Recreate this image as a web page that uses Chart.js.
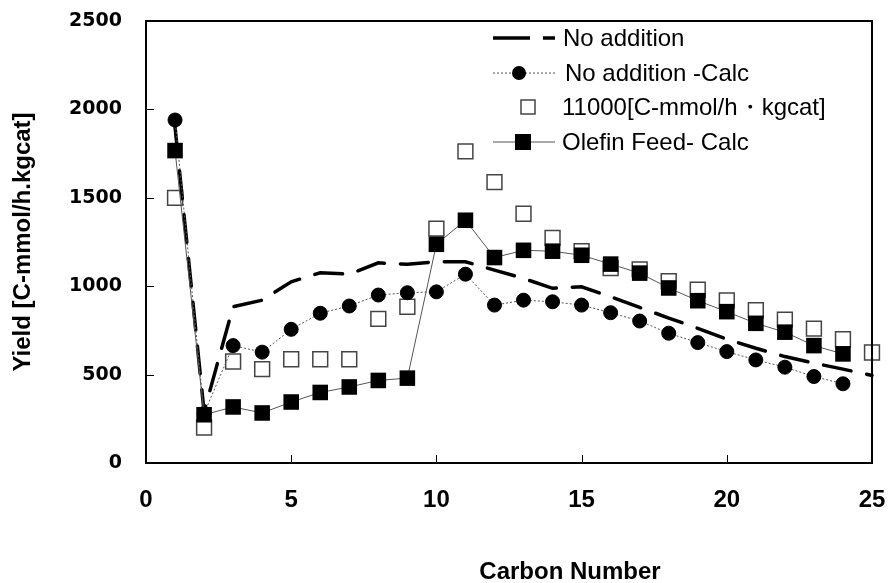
<!DOCTYPE html>
<html>
<head>
<meta charset="utf-8">
<script src="https://cdn.jsdelivr.net/npm/chart.js@4.4.1/dist/chart.umd.min.js"></script>
<style>
html, body { margin: 0; padding: 0; background: #fff; }
#wrap { width: 891px; height: 583px; }
</style>
</head>
<body>
<div id="wrap"><canvas id="myChart" width="891" height="583"></canvas></div>
<script>
var carbonNumber = [1, 2, 3, 4, 5, 6, 7, 8, 9, 10, 11, 12, 13, 14, 15, 16, 17, 18, 19, 20, 21, 22, 23, 24, 25];
var noAddition = [1900, 290, 884, 921, 1025, 1076, 1068, 1132, 1124, 1138, 1138, 1091, 1044, 988, 997, 940, 880, 820, 762, 700, 649, 602, 565, 531, 495];
var noAdditionCalc = [1940, 280, 664, 627, 756, 847, 888, 950, 963, 968, 1068, 893, 921, 912, 893, 850, 803, 734, 681, 630, 583, 542, 489, 448];
var exp11000 = [1500, 200, 574, 531, 587, 587, 587, 815, 884, 1326, 1763, 1589, 1410, 1273, 1198, 1102, 1095, 1029, 980, 920, 864, 811, 760, 700, 625];
var olefinFeedCalc = [1767, 273, 317, 283, 345, 399, 430, 467, 480, 1237, 1373, 1162, 1203, 1198, 1175, 1125, 1074, 990, 918, 856, 790, 740, 664, 617];
var xTicks = [0, 5, 10, 15, 20, 25];
var yTicks = [0, 500, 1000, 1500, 2000, 2500];
var legendLabels = ['No addition', 'No addition -Calc', '11000[C-mmol/h\u30FBkgcat]', 'Olefin Feed- Calc'];

scriptMain = {
    init: function () {
        scriptMain.generateGrafica();
    },

    toPoints: function (values) {
        return values.map(function (v, i) {
            return {x: carbonNumber[i], y: v};
        });
    },

    // frame, inward ticks, legend and the x title
    extras: {
        id: 'extras',
        afterDraw: function (chart) {
            var ctx = chart.ctx;
            var a = chart.chartArea;
            var xs = chart.scales.x;
            var ys = chart.scales.y;
            ctx.save();
            ctx.strokeStyle = '#000';
            ctx.lineWidth = 2;
            ctx.strokeRect(a.left, a.top, a.right - a.left, a.bottom - a.top);

            ctx.lineWidth = 1;
            ctx.beginPath();
            xTicks.slice(1, -1).forEach(function (v) {
                var px = Math.round(xs.getPixelForValue(v)) + 0.5;
                ctx.moveTo(px, a.bottom);
                ctx.lineTo(px, a.bottom - 8);
            });
            yTicks.slice(1, -1).forEach(function (v) {
                var py = Math.round(ys.getPixelForValue(v)) + 0.5;
                ctx.moveTo(a.left, py);
                ctx.lineTo(a.left + 8, py);
            });
            ctx.stroke();

            // legend
            var rows = [38, 73, 107, 142];
            ctx.font = '24px "Liberation Sans", Arial, sans-serif';
            ctx.fillStyle = '#000';
            ctx.textBaseline = 'middle';
            ctx.textAlign = 'left';

            ctx.beginPath();
            ctx.lineWidth = 3.5;
            ctx.setLineDash([37, 13]);
            ctx.moveTo(493, rows[0]);
            ctx.lineTo(555, rows[0]);
            ctx.stroke();

            ctx.beginPath();
            ctx.lineWidth = 1;
            ctx.strokeStyle = '#555';
            ctx.setLineDash([2, 2]);
            ctx.moveTo(493, rows[1]);
            ctx.lineTo(555, rows[1]);
            ctx.stroke();
            ctx.setLineDash([]);
            ctx.beginPath();
            ctx.arc(519, rows[1], 7, 0, Math.PI * 2);
            ctx.fill();

            ctx.fillStyle = '#fff';
            ctx.strokeStyle = '#444';
            ctx.lineWidth = 1.5;
            ctx.fillRect(521, rows[2] - 7, 14, 14);
            ctx.strokeRect(521, rows[2] - 7, 14, 14);

            ctx.fillStyle = '#000';
            ctx.strokeStyle = '#555';
            ctx.lineWidth = 1;
            ctx.beginPath();
            ctx.moveTo(493, rows[3]);
            ctx.lineTo(555, rows[3]);
            ctx.stroke();
            ctx.fillRect(515, rows[3] - 8, 16, 16);

            var textX = [563, 565, 562, 562];
            legendLabels.forEach(function (t, i) {
                ctx.fillText(t, textX[i], rows[i] + 1);
            });

            ctx.font = 'bold 24px "Liberation Sans", Arial, sans-serif';
            ctx.textAlign = 'center';
            ctx.fillText('Carbon Number', 570, 572);
            ctx.restore();
        }
    },

    generateGrafica: function () {
        var ctx = document.getElementById('myChart');
        var myChart = new Chart(ctx, {
            type: 'line',
            data: {
                datasets: [{
                    label: legendLabels[3],
                    data: scriptMain.toPoints(olefinFeedCalc),
                    borderColor: '#555',
                    borderWidth: 1,
                    pointStyle: 'rect',
                    pointRadius: 11,
                    pointBackgroundColor: '#000',
                    pointBorderColor: '#000',
                    pointBorderWidth: 0,
                    clip: false,
                    order: 0
                }, {
                    label: legendLabels[1],
                    data: scriptMain.toPoints(noAdditionCalc),
                    borderColor: '#555',
                    borderWidth: 1,
                    borderDash: [2, 2],
                    pointStyle: 'circle',
                    pointRadius: 7,
                    pointBackgroundColor: '#000',
                    pointBorderColor: '#000',
                    pointBorderWidth: 1,
                    clip: false,
                    order: 1
                }, {
                    label: legendLabels[0],
                    data: scriptMain.toPoints(noAddition),
                    borderColor: '#000',
                    borderWidth: 3.5,
                    borderDash: [28, 16],
                    borderCapStyle: 'round',
                    pointRadius: 0,
                    clip: false,
                    order: 2
                }, {
                    label: legendLabels[2],
                    data: scriptMain.toPoints(exp11000),
                    showLine: false,
                    pointStyle: 'rect',
                    pointRadius: 10.5,
                    pointBackgroundColor: '#fff',
                    pointBorderColor: '#444',
                    pointBorderWidth: 1.5,
                    clip: false,
                    order: 3
                }]
            },
            options: {
                responsive: false,
                animation: false,
                devicePixelRatio: 1,
                layout: {autoPadding: false, padding: {top: 21, right: 19, left: 0, bottom: 0}},
                plugins: {
                    legend: {display: false},
                    tooltip: {enabled: false}
                },
                scales: {
                    x: {
                        type: 'linear',
                        min: 0,
                        max: 25,
                        afterBuildTicks: function (scale) {
                            scale.ticks = xTicks.map(function (v) { return {value: v}; });
                        },
                        afterFit: function (scale) {
                            scale.height = 120;
                            scale.paddingLeft = 0;
                            scale.paddingRight = 0;
                        },
                        grid: {display: false, drawTicks: false},
                        border: {display: true, color: '#000', width: 2},
                        ticks: {
                            padding: 23,
                            maxRotation: 0,
                            color: '#000',
                            callback: function (v) { return String(v); },
                            font: {family: '"Liberation Sans", Arial, sans-serif', size: 24, weight: 'bold'}
                        }
                    },
                    y: {
                        min: 0,
                        max: 2500,
                        afterBuildTicks: function (scale) {
                            scale.ticks = yTicks.map(function (v) { return {value: v}; });
                        },
                        afterFit: function (scale) {
                            scale.width = 146;
                            scale.paddingTop = 0;
                            scale.paddingBottom = 0;
                        },
                        grid: {display: false, drawTicks: false},
                        border: {display: true, color: '#000', width: 2},
                        ticks: {
                            padding: 24,
                            color: '#000',
                            callback: function (v) { return String(v); },
                            font: {family: '"DejaVu Sans", sans-serif', size: 19, weight: 'bold'}
                        },
                        title: {
                            display: true,
                            text: 'Yield [C-mmol/h.kgcat]',
                            color: '#000',
                            padding: {top: 9, bottom: 0},
                            font: {family: '"Liberation Sans", Arial, sans-serif', size: 24, weight: 'bold'}
                        }
                    }
                }
            },
            plugins: [scriptMain.extras]
        });
    }
}

scriptMain.init();
</script>
</body>
</html>
